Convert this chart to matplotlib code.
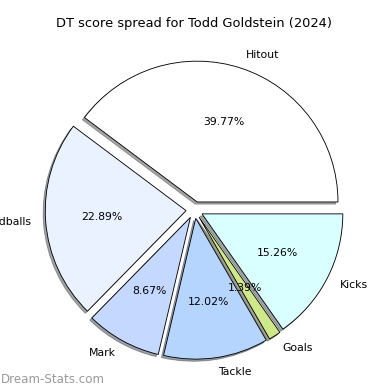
import matplotlib
matplotlib.use("Agg")
import matplotlib.pyplot as plt

labels = ["Hitout", "Handballs", "Mark", "Tackle", "Goals", "Kicks"]
shares = [39.77, 22.89, 8.67, 12.02, 1.39, 15.26]
colors = ["#ffffff", "#eaf1ff", "#c5d8ff", "#b5d5ff", "#cfe88a", "#d9ffff"]

fig = plt.figure(figsize=(5, 5), dpi=78)
ax = fig.add_axes([0.0474, 0.0103, 0.9026, 0.9026])

ax.pie(shares, labels=labels, colors=colors, autopct="%1.2f%%",
       explode=[0.06] * len(shares),
       shadow={"ox": -0.014, "oy": -0.014}, startangle=0,
       wedgeprops={"edgecolor": "black", "linewidth": 0.8})
ax.set_title("DT score spread for Todd Goldstein (2024)")

fig.text(0.002, 0.026, "Dream-Stats.com", color="#999999", fontsize=11,
         va="center", ha="left")

fig.savefig("out.png", dpi=78)
